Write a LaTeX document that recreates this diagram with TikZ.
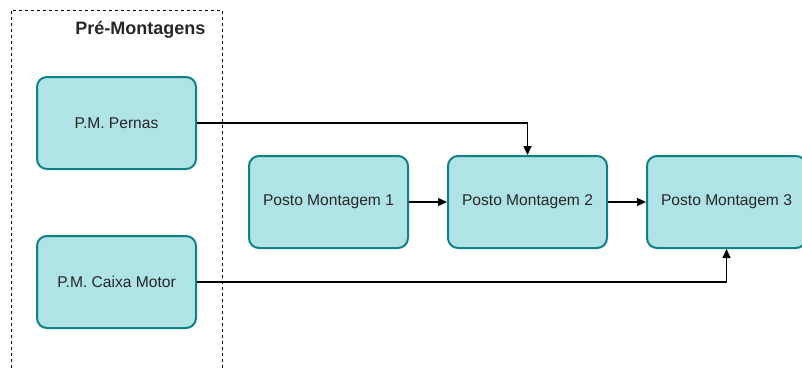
\documentclass[tikz,border=0pt]{standalone}
\usepackage{fontspec}
\setmainfont{Liberation Sans}
\usetikzlibrary{arrows.meta}
\definecolor{boxfill}{HTML}{B0E3E6}
\definecolor{boxline}{HTML}{0E8088}
\tikzset{
  stationbox/.style={draw=boxline, fill=boxfill, line width=2pt, rounded corners=10pt,
    minimum width=159pt, minimum height=92pt, inner sep=0pt,
    font=\fontsize{15.6pt}{18pt}\selectfont, text=black!85},
  link/.style={line width=1.3pt, -{Triangle[length=9pt,width=8pt]}},
  groupframe/.style={draw=black, line width=1pt, dash pattern=on 3pt off 3pt},
}
\begin{document}
\begin{tikzpicture}[x=1pt, y=-1pt]
  \useasboundingbox (0,0) rectangle (802,367);
  % pre-assembly group frame
  \draw[groupframe] (11,380) -- (11,10) -- (222,10) -- (222,380);
  \node[anchor=east, font=\bfseries\fontsize{18pt}{21pt}\selectfont, text=black!85] (title) at (209,30) {Pré-Montagens};
  % stations
  \node[stationbox] (pernas) at (116.5,123) {P.M. Pernas};
  \node[stationbox] (caixa) at (116.5,282) {P.M. Caixa Motor};
  \node[stationbox] (p1) at (328.5,202) {Posto Montagem 1};
  \node[stationbox] (p2) at (527.5,202) {Posto Montagem 2};
  \node[stationbox] (p3) at (726.5,202) {Posto Montagem 3};
  % connectors
  \draw[link] (p1.east) -- (p2.west);
  \draw[link] (p2.east) -- (p3.west);
  \draw[link] (pernas.east) -| (p2.north);
  \draw[link] (caixa.east) -| (p3.south);
\end{tikzpicture}
\end{document}
